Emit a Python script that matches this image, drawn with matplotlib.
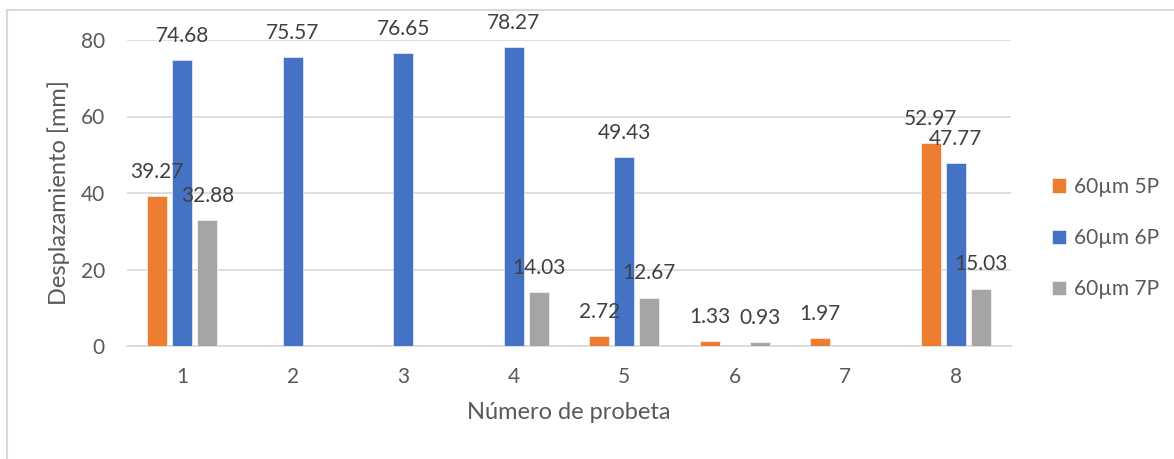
import numpy as np
import matplotlib.pyplot as plt
from matplotlib.lines import Line2D

# Chart data
categories = ["1", "2", "3", "4", "5", "6", "7", "8"]
series_names = ["60µm 5P", "60µm 6P", "60µm 7P"]
vals_5p = [39.27, np.nan, np.nan, np.nan, 2.72, 1.33, 1.97, 52.97]
vals_6p = [74.68, 75.57, 76.65, 78.27, 49.43, np.nan, np.nan, 47.77]
vals_7p = [32.88, np.nan, np.nan, 14.03, 12.67, 0.93, np.nan, 15.03]
colors = ["#ED7D31", "#4472C4", "#A5A5A5"]
y_ticks = [0, 20, 40, 60, 80]

text_color = "#595959"
plt.rcParams["font.family"] = ["Lato", "DejaVu Sans"]

W, H = 1174, 459
fig = plt.figure(figsize=(W / 100, H / 100), dpi=100)
# plot area in pixels: x 127..1011, y 40..346
ax = fig.add_axes([127 / W, 1 - 346 / H, (1011 - 127) / W, (346 - 40) / H])

x = np.arange(len(categories))
width = 0.18
offset = 0.226

for i, (vals, name, col) in enumerate(zip([vals_5p, vals_6p, vals_7p], series_names, colors)):
    pos = x + (i - 1) * offset
    ax.bar(pos, vals, width=width, color=col, label=name, zorder=3,
           edgecolor="white", linewidth=0.4)
    for p, v in zip(pos, vals):
        if not np.isnan(v):
            ax.annotate(f"{v:.2f}", (p, v), xytext=(0, 13), textcoords="offset points",
                        ha="center", va="baseline", fontsize=15, color="#404040",
                        annotation_clip=False, zorder=6)

ax.set_xlim(-0.5, len(categories) - 0.5)
ax.set_ylim(0, 80)
ax.set_yticks(y_ticks)
ax.set_xticks(x)
ax.set_xticklabels(categories)
ax.grid(axis="y", color="#D9D9D9", linewidth=1.2, zorder=0)
for s in ["top", "right", "left"]:
    ax.spines[s].set_visible(False)
ax.spines["bottom"].set_color("#D9D9D9")
ax.spines["bottom"].set_linewidth(1.2)
ax.tick_params(axis="both", length=0, labelsize=15, colors=text_color)
ax.tick_params(axis="x", pad=15)
ax.tick_params(axis="y", pad=16)
ax.set_xlabel("Número de probeta", fontsize=17, color=text_color)
ax.set_ylabel("Desplazamiento [mm]", fontsize=17, color=text_color)
ax.xaxis.set_label_coords(0.5, (346 - 402) / 306)
ax.yaxis.set_label_coords((70 - 127) / 884, 0.5)

ax.legend(loc="center left", bbox_to_anchor=(1044 / W, 1 - 238 / H),
          bbox_transform=fig.transFigure, borderaxespad=0, frameon=False,
          fontsize=15, labelcolor=text_color, handlelength=0.67, handleheight=0.67,
          handletextpad=0.35, labelspacing=1.5)

# chart frame lines (left and top)
fig.add_artist(Line2D([6.5 / W, 6.5 / W], [0, 1 - 10 / H], color="#D9D9D9", linewidth=1.5))
fig.add_artist(Line2D([6.5 / W, 1], [1 - 10 / H, 1 - 10 / H], color="#D9D9D9", linewidth=1.5))

fig.savefig("out.png", dpi=100)
